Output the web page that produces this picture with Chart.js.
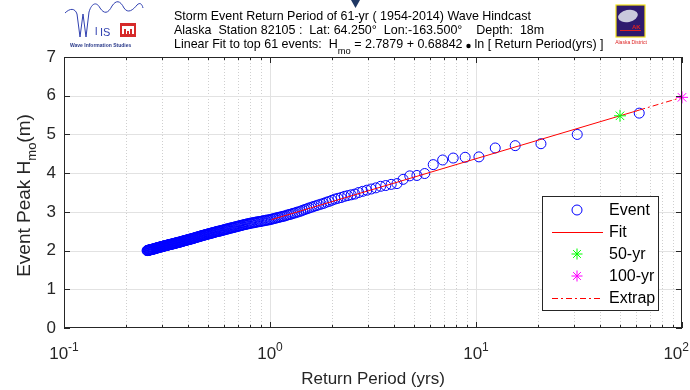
<!DOCTYPE html>
<html>
<head>
<meta charset="utf-8">
<script src="https://cdn.jsdelivr.net/npm/chart.js@4.4.1/dist/chart.umd.min.js"></script>
<style>
  html, body { margin: 0; padding: 0; background: #fff; }
  #wrap { width: 690px; height: 390px; }
</style>
</head>
<body>
<div id="wrap"><canvas id="grafica" width="690" height="390"></canvas></div>
<script>
// 61-yr hindcast, station 82105
const years = 61;

// Event peak Hmo (m), ranked largest first
const hmo = [
  5.55, 5.00, 4.76, 4.71, 4.65, 4.42, 4.41, 4.39, 4.34, 4.22,
  3.99, 3.94, 3.93, 3.84, 3.73, 3.71, 3.68, 3.66, 3.62, 3.59,
  3.56, 3.53, 3.50, 3.46, 3.44, 3.42, 3.40, 3.37, 3.35, 3.33,
  3.30, 3.27, 3.25, 3.22, 3.20, 3.18, 3.16, 3.14, 3.12, 3.10,
  3.08, 3.06, 3.04, 3.02, 3.00, 2.99, 2.97, 2.96, 2.94, 2.93,
  2.92, 2.90, 2.89, 2.88, 2.87, 2.86, 2.85, 2.84, 2.83, 2.82,
  2.81, 2.80, 2.79, 2.79, 2.78, 2.77, 2.77, 2.76, 2.75,
  2.75, 2.74, 2.74, 2.73, 2.72, 2.72, 2.71, 2.71, 2.70, 2.69,
  2.69, 2.68, 2.67, 2.67, 2.66, 2.65, 2.65, 2.64, 2.63, 2.63,
  2.62, 2.61, 2.61, 2.60, 2.59, 2.59, 2.58, 2.58, 2.57, 2.56,
  2.56, 2.55, 2.55, 2.54, 2.53, 2.53, 2.52, 2.52, 2.51, 2.50,
  2.50, 2.50, 2.49, 2.49, 2.48, 2.47, 2.47, 2.46, 2.46, 2.45,
  2.45, 2.44, 2.44, 2.43, 2.43, 2.42, 2.42, 2.41, 2.41, 2.40,
  2.40, 2.39, 2.39, 2.38, 2.38, 2.37, 2.37, 2.36, 2.36, 2.35,
  2.35, 2.34, 2.34, 2.33, 2.33, 2.32, 2.32, 2.31, 2.31, 2.30,
  2.30, 2.30, 2.29, 2.29, 2.28, 2.28, 2.28, 2.27, 2.27, 2.26,
  2.26, 2.26, 2.25, 2.25, 2.24, 2.24, 2.24, 2.23, 2.23, 2.22,
  2.22, 2.22, 2.21, 2.21, 2.21, 2.20, 2.20, 2.20, 2.19, 2.19,
  2.19, 2.18, 2.18, 2.18, 2.17, 2.17, 2.17, 2.16, 2.16, 2.16,
  2.16, 2.15, 2.15, 2.15, 2.14, 2.14, 2.14, 2.13, 2.13, 2.13,
  2.13, 2.12, 2.12, 2.12, 2.11, 2.11, 2.11, 2.10, 2.10, 2.10,
  2.10, 2.09, 2.09, 2.09, 2.08, 2.08, 2.08, 2.07, 2.07, 2.07,
  2.07, 2.06, 2.06, 2.06, 2.05, 2.05, 2.05, 2.04, 2.04, 2.04,
  2.04, 2.03, 2.03, 2.03, 2.03, 2.02, 2.02, 2.02, 2.02, 2.01,
  2.01, 2.01, 2.01, 2.00, 2.00, 2.00
];

// Weibull plotting position: T = (years + 1) / rank
const returnPeriod = hmo.map((h, i) => (years + 1) / (i + 1));

// fit to top 61 events (from the title)
const fitA = 2.7879;
const fitB = 0.68842;
const fitPeriods = [(years + 1) / 61, years + 1];
const extrapPeriods = [years + 1, 100];
const levelPeriods = [50, 100];

const xTickValues = [0.1, 1, 10, 100];
const xTickExp = ['-1', '0', '1', '2'];
const yTickValues = [0, 1, 2, 3, 4, 5, 6, 7];

const fitH = (t) => fitA + fitB * Math.log(t);

const FONT = '"Liberation Sans", Arial, Helvetica, sans-serif';
const AXC = '#262626';

const gridPlugin = {
  id: 'grid',
  beforeDatasetsDraw(chart) {
    const { ctx, chartArea: a, scales: { x, y } } = chart;
    ctx.save();
    ctx.lineWidth = 1;
    // minor x grid, dotted
    ctx.strokeStyle = '#cfcfcf';
    ctx.setLineDash([1, 2]);
    for (let e = -1; e <= 1; e++) {
      for (let k = 2; k <= 9; k++) {
        const px = Math.round(x.getPixelForValue(k * Math.pow(10, e))) + 0.5;
        ctx.beginPath();
        ctx.moveTo(px, a.top);
        ctx.lineTo(px, a.bottom);
        ctx.stroke();
      }
    }
    ctx.setLineDash([]);
    ctx.strokeStyle = '#e2e2e2';
    [1, 10].forEach((v) => {
      const px = Math.round(x.getPixelForValue(v)) + 0.5;
      ctx.beginPath();
      ctx.moveTo(px, a.top);
      ctx.lineTo(px, a.bottom);
      ctx.stroke();
    });
    yTickValues.slice(1, -1).forEach((v) => {
      const py = Math.round(y.getPixelForValue(v)) + 0.5;
      ctx.beginPath();
      ctx.moveTo(a.left, py);
      ctx.lineTo(a.right, py);
      ctx.stroke();
    });
    ctx.restore();
  },
  afterDatasetsDraw(chart) {
    const { ctx, chartArea: a, scales: { x, y } } = chart;
    ctx.save();
    ctx.strokeStyle = AXC;
    ctx.lineWidth = 1;
    ctx.strokeRect(a.left + 0.5, a.top + 0.5, a.right - a.left - 1, a.bottom - a.top - 1);

    // ticks (inward, both sides)
    ctx.beginPath();
    yTickValues.forEach((v) => {
      const py = Math.round(y.getPixelForValue(v)) + 0.5;
      ctx.moveTo(a.left, py); ctx.lineTo(a.left + 6, py);
      ctx.moveTo(a.right, py); ctx.lineTo(a.right - 6, py);
    });
    for (let e = -1; e <= 2; e++) {
      for (let k = 1; k <= 9; k++) {
        if (e === 2 && k > 1) break;
        const px = Math.round(x.getPixelForValue(k * Math.pow(10, e))) + 0.5;
        const len = k === 1 ? 6 : 3;
        ctx.moveTo(px, a.bottom); ctx.lineTo(px, a.bottom - len);
        ctx.moveTo(px, a.top); ctx.lineTo(px, a.top + len);
      }
    }
    ctx.stroke();

    // y tick labels
    ctx.fillStyle = AXC;
    ctx.font = '17px ' + FONT;
    ctx.textAlign = 'right';
    ctx.textBaseline = 'middle';
    yTickValues.forEach((v) => {
      ctx.fillText(String(v), a.left - 8, y.getPixelForValue(v));
    });

    // x tick labels 10^n
    ctx.textAlign = 'left';
    ctx.textBaseline = 'alphabetic';
    xTickValues.forEach((v, i) => {
      ctx.font = '17px ' + FONT;
      const wb = ctx.measureText('10').width;
      ctx.font = '12px ' + FONT;
      const we = ctx.measureText(xTickExp[i]).width;
      const px = x.getPixelForValue(v);
      let x0 = px - (wb + we) / 2;
      if (x0 + wb + we > 689) x0 = 689 - wb - we;
      ctx.font = '17px ' + FONT;
      ctx.fillText('10', x0, a.bottom + 31);
      ctx.font = '12px ' + FONT;
      ctx.fillText(xTickExp[i], x0 + wb, a.bottom + 23);
    });

    // axis titles
    ctx.font = '17px ' + FONT;
    ctx.textAlign = 'center';
    ctx.fillText('Return Period (yrs)', (a.left + a.right) / 2, 384);

    ctx.save();
    ctx.translate(30, (a.top + a.bottom) / 2 + 3);
    ctx.rotate(-Math.PI / 2);
    const p1 = 'Event Peak H', p2 = 'mo', p3 = '(m)';
    ctx.font = '19px ' + FONT;
    const w1 = ctx.measureText(p1).width, w3 = ctx.measureText(p3).width;
    ctx.font = '13px ' + FONT;
    const w2 = ctx.measureText(p2).width;
    let cx = -(w1 + w2 + w3) / 2;
    ctx.textAlign = 'left';
    ctx.font = '19px ' + FONT;
    ctx.fillText(p1, cx, 0); cx += w1;
    ctx.font = '13px ' + FONT;
    ctx.fillText(p2, cx, 6); cx += w2;
    ctx.font = '19px ' + FONT;
    ctx.fillText(p3, cx, 0);
    ctx.restore();

    drawLegend(ctx);
    drawHeader(ctx);
    ctx.restore();
  }
};

function drawLegend(ctx) {
  const L = 542, T = 196, R = 659, B = 311;
  ctx.save();
  ctx.fillStyle = '#fff';
  ctx.fillRect(L, T, R - L, B - T);
  ctx.strokeStyle = AXC;
  ctx.lineWidth = 1;
  ctx.strokeRect(L + 0.5, T + 0.5, R - L - 1, B - T - 1);
  const names = ['Event', 'Fit', '50-yr', '100-yr', 'Extrap'];
  const sx = 577;
  names.forEach((n, i) => {
    const yy = 210 + i * 22;
    ctx.lineWidth = 1;
    ctx.setLineDash([]);
    if (i === 0) {
      ctx.strokeStyle = '#0000ff';
      ctx.beginPath(); ctx.arc(sx, yy, 5, 0, Math.PI * 2); ctx.stroke();
    } else if (i === 1 || i === 4) {
      ctx.strokeStyle = '#ff0000';
      if (i === 4) ctx.setLineDash([6, 3, 2, 3]);
      ctx.beginPath(); ctx.moveTo(552, yy + 0.5); ctx.lineTo(603, yy + 0.5); ctx.stroke();
    } else {
      ctx.strokeStyle = i === 2 ? '#00ff00' : '#ff00ff';
      const r = 5.5;
      ctx.beginPath();
      ctx.moveTo(sx - r, yy); ctx.lineTo(sx + r, yy);
      ctx.moveTo(sx, yy - r); ctx.lineTo(sx, yy + r);
      const d = r * 0.707;
      ctx.moveTo(sx - d, yy - d); ctx.lineTo(sx + d, yy + d);
      ctx.moveTo(sx - d, yy + d); ctx.lineTo(sx + d, yy - d);
      ctx.stroke();
    }
    ctx.setLineDash([]);
    ctx.fillStyle = '#000';
    ctx.font = '16px ' + FONT;
    ctx.textAlign = 'left';
    ctx.textBaseline = 'middle';
    ctx.fillText(n, 609, yy + 1);
  });
  ctx.restore();
}

function drawHeader(ctx) {
  ctx.save();
  ctx.fillStyle = '#000';
  ctx.textBaseline = 'middle';
  ctx.textAlign = 'left';
  const line1 = 'Storm Event Return Period of 61-yr ( 1954-2014) Wave Hindcast';
  ctx.font = '13px ' + FONT;
  const fs = 13 * 357 / ctx.measureText(line1).width;
  const f = fs.toFixed(2) + 'px ' + FONT;
  ctx.font = f;
  ctx.fillText(line1, 174, 17);
  ctx.fillText('Alaska  Station 82105 :  Lat: 64.250\u00b0  Lon:-163.500\u00b0    Depth:  18m', 174, 31);
  let cx = 174;
  const a = 'Linear Fit to top 61 events:  H';
  ctx.fillText(a, cx, 45); cx += ctx.measureText(a).width;
  ctx.font = (fs * 0.75).toFixed(2) + 'px ' + FONT;
  ctx.fillText('mo', cx, 51); cx += ctx.measureText('mo').width;
  ctx.font = f;
  const b = ' = 2.7879 + 0.68842 ';
  ctx.fillText(b, cx, 45); cx += ctx.measureText(b).width;
  ctx.beginPath(); ctx.arc(cx + 2.5, 46, 2.2, 0, Math.PI * 2); ctx.fill();
  cx += 5;
  ctx.fillText(' ln [ Return Period(yrs) ]', cx, 45);

  // marker triangle
  ctx.fillStyle = '#1f3864';
  ctx.beginPath(); ctx.moveTo(351, 0); ctx.lineTo(360, 0); ctx.lineTo(355.5, 8); ctx.closePath(); ctx.fill();

  // WIS logo
  ctx.strokeStyle = '#3040b0';
  ctx.lineWidth = 1;
  ctx.beginPath();
  ctx.moveTo(65, 13);
  ctx.bezierCurveTo(70, 8, 75, 8, 77, 14);
  ctx.lineTo(80, 37);
  ctx.lineTo(83, 14);
  ctx.lineTo(86, 37);
  ctx.lineTo(89, 12);
  ctx.bezierCurveTo(92, 2, 97, 2, 100, 8);
  ctx.bezierCurveTo(104, 14, 108, 14, 112, 6);
  ctx.bezierCurveTo(116, 0, 120, 0, 124, 8);
  ctx.bezierCurveTo(128, 14, 133, 10, 137, 5);
  ctx.bezierCurveTo(140, 2, 142, 4, 143, 8);
  ctx.stroke();
  ctx.fillStyle = '#3040b0';
  ctx.font = '11px ' + FONT;
  ctx.fillText('l', 95, 32);
  ctx.fillText('IS', 100, 33);
  ctx.font = 'bold 5px ' + FONT;
  ctx.fillStyle = '#2a3a8a';
  ctx.fillText('Wave Information Studies', 70, 46);
  ctx.fillStyle = '#d62a2a';
  ctx.fillRect(120, 23, 16, 14);
  ctx.fillStyle = '#fff';
  ctx.fillRect(122, 26, 12, 8);
  ctx.fillStyle = '#d62a2a';
  ctx.fillRect(124, 29, 2, 5);
  ctx.fillRect(130, 29, 2, 5);
  ctx.fillRect(127, 31, 2, 3);

  // Alaska District logo
  ctx.fillStyle = '#2e1a6e';
  ctx.fillRect(616, 5, 29, 32);
  ctx.strokeStyle = '#f2e21a';
  ctx.lineWidth = 1.2;
  ctx.strokeRect(616, 5, 29, 32);
  ctx.fillStyle = '#c9c9dc';
  ctx.beginPath(); ctx.ellipse(628, 16, 10, 6, -0.2, 0, Math.PI * 2); ctx.fill();
  ctx.fillStyle = '#d22';
  ctx.fillRect(620, 30, 21, 1);
  ctx.font = 'bold 6px ' + FONT;
  ctx.fillText('AK', 632, 27);
  ctx.font = '5px ' + FONT;
  ctx.textAlign = 'center';
  ctx.fillText('Alaska District', 631, 43);
  ctx.restore();
}

const ctx = document.getElementById('grafica').getContext('2d');
const chart = new Chart(ctx, {
  type: 'scatter',
  data: {
    datasets: [
      {
        label: 'Event',
        data: hmo.map((h, i) => ({ x: returnPeriod[i], y: h })),
        pointStyle: 'circle',
        pointRadius: 5,
        borderColor: '#0000ff',
        backgroundColor: 'rgba(0,0,0,0)',
        borderWidth: 1,
        order: 5
      },
      {
        label: 'Fit',
        type: 'line',
        data: fitPeriods.map((t) => ({ x: t, y: fitH(t) })),
        borderColor: '#ff0000',
        borderWidth: 1,
        pointRadius: 0,
        order: 2
      },
      {
        label: '50-yr',
        data: [{ x: levelPeriods[0], y: fitH(levelPeriods[0]) }],
        pointStyle: 'star',
        pointRadius: 6,
        borderColor: '#00ff00',
        borderWidth: 1,
        clip: false,
        order: 1
      },
      {
        label: '100-yr',
        data: [{ x: levelPeriods[1], y: fitH(levelPeriods[1]) }],
        pointStyle: 'star',
        pointRadius: 6,
        borderColor: '#ff00ff',
        borderWidth: 1,
        clip: false,
        order: 1
      },
      {
        label: 'Extrap',
        type: 'line',
        data: extrapPeriods.map((t) => ({ x: t, y: fitH(t) })),
        borderColor: '#ff0000',
        borderWidth: 1,
        borderDash: [6, 3, 2, 3],
        pointRadius: 0,
        order: 2
      }
    ]
  },
  options: {
    responsive: false,
    animation: false,
    devicePixelRatio: 1,
    layout: { padding: { left: 64, right: 8, top: 57, bottom: 62 } },
    plugins: {
      legend: { display: false },
      tooltip: { enabled: false }
    },
    scales: {
      x: { type: 'logarithmic', min: 0.1, max: 100, display: false },
      y: { type: 'linear', min: 0, max: 7, display: false }
    }
  },
  plugins: [gridPlugin]
});
</script>
</body>
</html>
